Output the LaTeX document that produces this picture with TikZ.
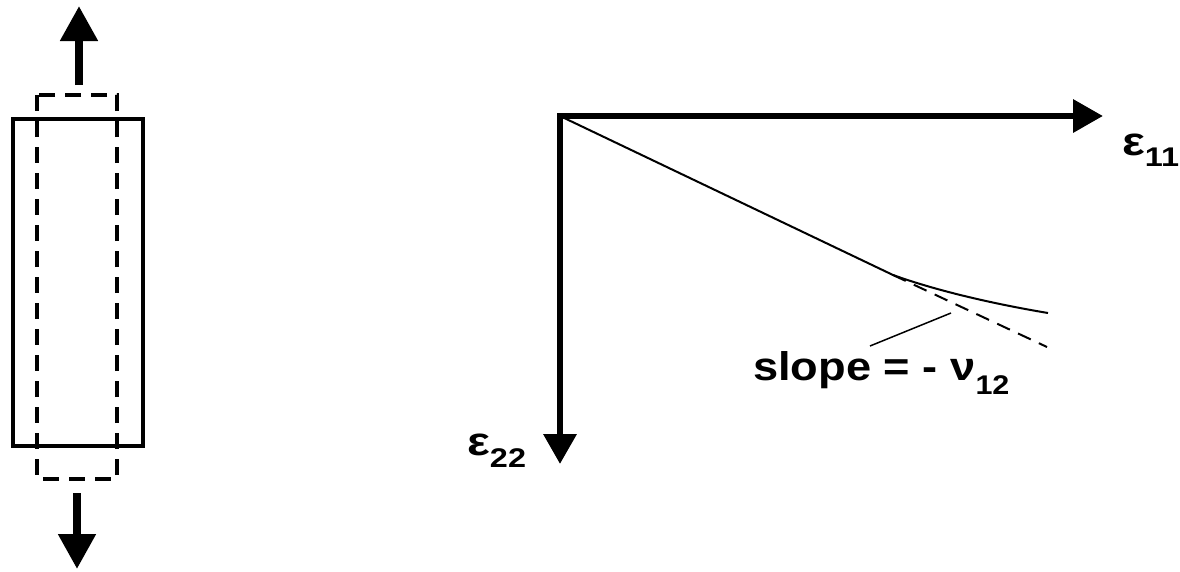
\documentclass[tikz,border=0pt]{standalone}
\usepackage{fontspec}
\setmainfont{Liberation Sans}
\usetikzlibrary{arrows.meta}
\tikzset{
  bigtext/.style={inner sep=0pt, anchor=base west, font=\bfseries},
  axisline/.style={line width=6.5pt, miter limit=10, line join=miter},
  pullarrow/.style={line width=8pt, -{Triangle[length=35pt,width=36pt]}},
  specimen/.style={line width=3.5pt},
  deformed/.style={line width=3.5pt, dash pattern=on 16pt off 10pt},
  thinline/.style={line width=2pt},
  tangent/.style={line width=2pt, dash pattern=on 14pt off 9pt},
  leader/.style={line width=1.5pt},
}
\newcommand{\bigsz}{\fontsize{40}{40}\selectfont}
\newcommand{\subsz}[2]{\raisebox{-#1pt}{\fontsize{27}{27}\selectfont #2}}
\begin{document}
\begin{tikzpicture}[x=1pt,y=-1pt]
\useasboundingbox (0,0) rectangle (1180,571);
% specimen
\draw[specimen] (13,119) rectangle (143,446);
\draw[deformed] (37,95) rectangle (117,479);
\coordinate (topbase) at (79,85);
\coordinate (toptip) at (79,6);
\coordinate (botbase) at (77,493);
\coordinate (bottip) at (77,569);
\draw[pullarrow] (topbase) -- (toptip);
\draw[pullarrow] (botbase) -- (bottip);
% axes
\coordinate (O) at (560,116);
\coordinate (xend) at (1103,116);
\coordinate (yend) at (560,464);
\draw[axisline, {Triangle[length=30pt,width=32pt]}-{Triangle[length=30pt,width=32pt]}] (xend) -- (O) -- (yend);
% curve
\coordinate (T) at (893,275);
\coordinate (cend) at (1048,313);
\coordinate (dend) at (1047,347);
\draw[thinline] (O) -- (T) .. controls (940,292) and (1000,305) .. (cend);
\draw[tangent] (T) -- (dend);
% labels
\node[bigtext] (e11) at (1122,155) {\scalebox{1.2}[1]{\bigsz ε\subsz{11}{11}}};
\node[bigtext] (e22) at (467,455) {\scalebox{1.2}[1]{\bigsz ε\subsz{12}{22}}};
\node[bigtext] (slope) at (753,380) {\scalebox{1.13}[1]{\bigsz slope = - ν\subsz{14}{12}}};
\coordinate (leadA) at (870,346);
\coordinate (leadB) at (951,313);
\draw[leader] (leadA) -- (leadB);
\end{tikzpicture}
\end{document}
